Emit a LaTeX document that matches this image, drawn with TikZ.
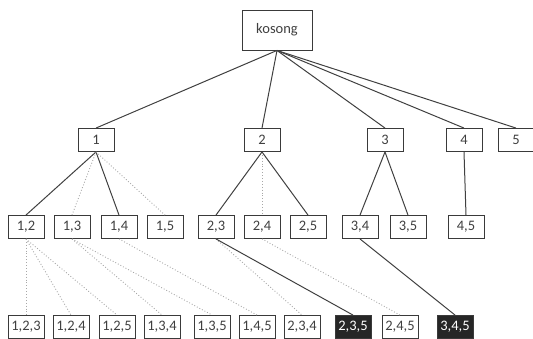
\documentclass[tikz,border=0pt]{standalone}
\usepackage{fontspec}
\setmainfont{Carlito}
\definecolor{boxline}{HTML}{3A3A3A}
\definecolor{edgeline}{HTML}{404040}
\definecolor{dotline}{HTML}{A8A8A8}
\definecolor{hitfill}{HTML}{262626}
\begin{document}
\begin{tikzpicture}[x=1pt, y=-1pt]
    \tikzstyle{set} = [rectangle, draw=boxline, line width=0.9pt, fill=white, minimum width=36pt, minimum height=23pt, inner sep=0pt, font=\fontsize{14.5}{15}\selectfont, text=black!75]
    \tikzstyle{hit} = [set, fill=hitfill, text=white]
    \tikzstyle{keep} = [draw=edgeline, line width=1pt]
    \tikzstyle{prune} = [draw=dotline, line width=0.9pt, dotted]

    \path[use as bounding box] (0,0) rectangle (533,338);

    % root
    \node [set, minimum width=70pt, minimum height=40pt] (r) at (277,30) {kosong};

    % level 1
    \node [set] (a1) at (96,140) {1};
    \node [set] (a2) at (262,140) {2};
    \node [set] (a3) at (385,140) {3};
    \node [set] (a4) at (464,140) {4};
    \node [set] (a5) at (516,140) {5};

    % level 2
    \node [set] (b12) at (26,227) {1,2};
    \node [set] (b13) at (72,227) {1,3};
    \node [set] (b14) at (119,227) {1,4};
    \node [set] (b15) at (165,227) {1,5};
    \node [set] (b23) at (216,227) {2,3};
    \node [set] (b24) at (262,227) {2,4};
    \node [set] (b25) at (308,227) {2,5};
    \node [set] (b34) at (360,227) {3,4};
    \node [set] (b35) at (408,227) {3,5};
    \node [set] (b45) at (466,227) {4,5};

    % level 3
    \node [set] (c123) at (26,327) {1,2,3};
    \node [set] (c124) at (71,327) {1,2,4};
    \node [set] (c125) at (117,327) {1,2,5};
    \node [set] (c134) at (162,327) {1,3,4};
    \node [set] (c135) at (212,327) {1,3,5};
    \node [set] (c145) at (257,327) {1,4,5};
    \node [set] (c234) at (302,327) {2,3,4};
    \node [hit] (c235) at (353,327) {2,3,5};
    \node [set] (c245) at (400,327) {2,4,5};
    \node [hit] (c345) at (455,327) {3,4,5};

    % edges
    \draw [keep] (r.south) -- (a1.north);
    \draw [keep] (r.south) -- (a2.north);
    \draw [keep] (r.south) -- (a3.north);
    \draw [keep] (r.south) -- (a4.north);
    \draw [keep] (r.south) -- (a5.north);

    \draw [keep] (a1.south) -- (b12.north);
    \draw [prune] (a1.south) -- (b13.north);
    \draw [keep] (a1.south) -- (b14.north);
    \draw [prune] (a1.south) -- (b15.north);
    \draw [keep] (a2.south) -- (b23.north);
    \draw [prune] (a2.south) -- (b24.north);
    \draw [keep] (a2.south) -- (b25.north);
    \draw [keep] (a3.south) -- (b34.north);
    \draw [keep] (a3.south) -- (b35.north);
    \draw [keep] (a4.south) -- (b45.north);

    \draw [prune] (b12.south) -- (c123.north);
    \draw [prune] (b12.south) -- (c124.north);
    \draw [prune] (b12.south) -- (c125.north);
    \draw [prune] (b13.south) -- (c134.north);
    \draw [prune] (b13.south) -- (c135.north);
    \draw [prune] (b14.south) -- (c145.north);
    \draw [prune] (b23.south) -- (c234.north);
    \draw [keep] (b23.south) -- (c235.north);
    \draw [prune] (b24.south) -- (c245.north);
    \draw [keep] (b34.south) -- (c345.north);
\end{tikzpicture}
\end{document}
